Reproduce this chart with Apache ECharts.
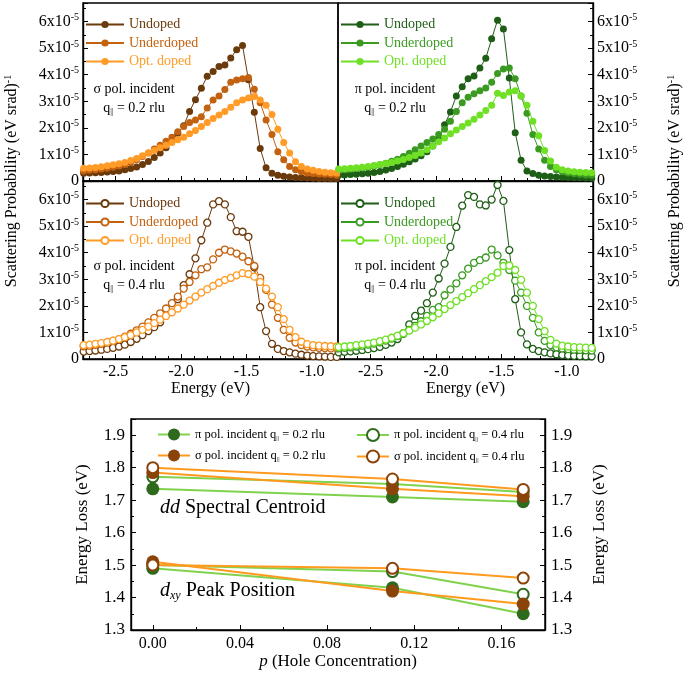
<!DOCTYPE html>
<html><head><meta charset="utf-8">
<script src="https://cdn.jsdelivr.net/npm/echarts@6/dist/echarts.min.js"></script>
<style>html,body{margin:0;padding:0;background:#fff}#c{width:688px;height:679px}</style>
</head><body><div id="c"></div>
<script>
// ---------- DATA (scattering probability in units of 1e-5 (eV srad)^-1) ----------
const energy = [-2.745,-2.700,-2.655,-2.610,-2.565,-2.520,-2.475,-2.430,-2.385,-2.340,-2.295,-2.250,-2.205,-2.160,-2.115,-2.070,-2.025,-1.980,-1.935,-1.890,-1.845,-1.800,-1.755,-1.710,-1.665,-1.620,-1.575,-1.530,-1.485,-1.440,-1.395,-1.350,-1.305,-1.260,-1.215,-1.170,-1.125,-1.080,-1.035,-0.990,-0.945,-0.900,-0.855,-0.810];

const sig02Undoped = [0.29,0.30,0.31,0.32,0.34,0.36,0.38,0.42,0.47,0.53,0.62,0.73,0.88,1.05,1.25,1.50,1.80,2.08,2.62,3.06,3.49,3.94,4.12,4.31,4.37,4.63,4.94,5.10,3.81,2.59,1.22,0.50,0.29,0.22,0.18,0.15,0.13,0.12,0.11,0.10,0.09,0.09,0.08,0.08];
const sig02Under   = [0.38,0.40,0.42,0.45,0.48,0.52,0.56,0.62,0.70,0.80,0.92,1.05,1.20,1.35,1.50,1.65,1.85,2.05,2.20,2.30,2.42,2.75,3.05,3.20,3.44,3.72,3.80,3.85,3.90,3.45,2.95,2.30,1.75,1.10,0.80,0.55,0.42,0.35,0.30,0.28,0.26,0.25,0.24,0.22];
const sig02Opt     = [0.48,0.49,0.51,0.54,0.57,0.61,0.65,0.70,0.77,0.85,0.95,1.05,1.15,1.25,1.35,1.45,1.55,1.65,1.78,1.90,2.05,2.20,2.35,2.48,2.62,2.78,2.95,3.05,3.12,3.18,3.05,2.85,2.50,1.95,1.45,1.05,0.72,0.55,0.45,0.40,0.36,0.33,0.31,0.30];

const pi02Undoped  = [0.22,0.23,0.24,0.25,0.27,0.29,0.32,0.36,0.41,0.47,0.55,0.63,0.72,0.83,0.95,1.10,1.32,1.58,2.12,2.60,3.20,3.55,3.85,3.95,4.25,4.62,5.35,6.05,5.72,3.88,1.82,0.78,0.38,0.28,0.22,0.19,0.17,0.15,0.14,0.13,0.12,0.12,0.11,0.10];
const pi02Under    = [0.40,0.42,0.44,0.46,0.49,0.52,0.56,0.61,0.67,0.74,0.82,0.92,1.04,1.18,1.32,1.45,1.58,1.75,1.95,2.25,2.62,2.95,3.15,3.28,3.40,3.50,3.72,4.05,4.22,4.25,3.85,3.20,2.55,1.75,1.20,0.78,0.55,0.42,0.35,0.30,0.27,0.25,0.23,0.22];
const pi02Opt      = [0.45,0.46,0.48,0.50,0.52,0.55,0.58,0.62,0.66,0.70,0.75,0.81,0.88,0.96,1.05,1.18,1.32,1.48,1.62,1.78,1.92,2.05,2.18,2.32,2.48,2.65,2.85,3.30,3.22,3.35,3.40,3.20,2.85,2.25,1.70,1.15,0.75,0.52,0.42,0.38,0.35,0.33,0.32,0.31];

const sig04Undoped = [0.28,0.30,0.32,0.35,0.38,0.42,0.47,0.54,0.64,0.76,0.90,1.05,1.20,1.38,1.65,1.95,2.25,2.78,3.19,3.79,4.47,5.13,5.82,5.94,5.82,5.34,4.81,4.79,4.60,3.45,1.95,1.05,0.57,0.38,0.30,0.25,0.20,0.16,0.13,0.11,0.10,0.09,0.08,0.08];
const sig04Under   = [0.48,0.50,0.53,0.57,0.62,0.68,0.75,0.84,0.95,1.08,1.22,1.38,1.55,1.72,1.90,2.10,2.35,2.65,2.90,3.15,3.38,3.45,3.75,4.00,4.12,4.05,3.97,3.85,3.68,3.50,3.05,2.60,2.05,1.55,1.10,0.80,0.62,0.52,0.47,0.44,0.42,0.41,0.40,0.40];
const sig04Opt     = [0.52,0.54,0.57,0.60,0.64,0.69,0.75,0.82,0.90,1.00,1.10,1.22,1.35,1.48,1.62,1.76,1.90,2.05,2.20,2.35,2.50,2.63,2.75,2.87,2.97,3.05,3.15,3.23,3.20,3.10,2.90,2.65,2.35,1.95,1.50,1.10,0.82,0.65,0.56,0.52,0.50,0.49,0.48,0.47];

const pi04Undoped  = [0.25,0.27,0.29,0.31,0.34,0.37,0.41,0.46,0.53,0.62,0.75,0.95,1.30,1.62,1.82,2.10,2.50,3.03,3.59,4.22,4.97,5.77,6.17,6.10,5.82,5.78,6.00,6.55,5.95,4.10,2.25,1.00,0.55,0.38,0.30,0.25,0.21,0.18,0.15,0.13,0.12,0.11,0.10,0.10];
const pi04Under    = [0.40,0.42,0.44,0.47,0.50,0.54,0.58,0.63,0.69,0.77,0.86,0.97,1.10,1.25,1.42,1.62,1.85,1.95,2.40,2.62,2.85,3.15,3.40,3.62,3.72,3.82,4.12,3.90,3.62,3.35,2.95,2.50,2.00,1.55,1.00,0.68,0.52,0.44,0.40,0.37,0.35,0.34,0.33,0.32];
const pi04Opt      = [0.45,0.47,0.49,0.52,0.55,0.58,0.62,0.67,0.73,0.80,0.88,0.97,1.07,1.18,1.30,1.43,1.57,1.72,1.88,2.03,2.18,2.33,2.48,2.63,2.78,2.93,3.08,3.25,3.50,3.52,3.35,2.98,2.50,2.00,1.50,1.05,0.72,0.58,0.50,0.47,0.45,0.44,0.43,0.42];

const dopingLabels = ['Undoped', 'Underdoped', 'Opt. doped'];
const energyMajorTicks = [-2.5, -2.0, -1.5, -1.0];
const energyMinorTicks = [-2.7,-2.6,-2.4,-2.3,-2.2,-2.1,-1.9,-1.8,-1.7,-1.6,-1.4,-1.3,-1.2,-1.1,-0.9];

// bottom panel
const holeP = [0, 0.11, 0.17];
const pi02Centroid  = [1.735, 1.710, 1.695];
const pi02Peak      = [1.490, 1.430, 1.350];
const pi04Centroid  = [1.772, 1.750, 1.725];
const pi04Peak      = [1.500, 1.480, 1.410];
const sig02Centroid = [1.785, 1.735, 1.712];
const sig02Peak     = [1.510, 1.420, 1.380];
const sig04Centroid = [1.800, 1.765, 1.733];
const sig04Peak     = [1.500, 1.490, 1.460];
const holeMajorTicks = [0, 0.04, 0.08, 0.12, 0.16];
const holeMinorTicks = [0.02, 0.06, 0.10, 0.14];

// ---------- STYLE ----------
const FONT = '"Liberation Serif","Times New Roman",serif';
const SIG_COLORS = ['#6b3a0c', '#c2610f', '#ff9b26'];
const PI_COLORS  = ['#1f5e17', '#3a9a22', '#6fe024'];
const GREEN_LINE = '#80d24e', GREEN_MARK = '#2e6a1c';
const ORANGE_LINE = '#ff9a1f', BROWN_MARK = '#8a4309';

const chart = echarts.init(document.getElementById('c'), null, {renderer: 'canvas'});

const panels = [
  {key: 'A', grid: 0, pol: 'σ', q: '0.2', open: false, colors: SIG_COLORS, sets: [sig02Undoped, sig02Under, sig02Opt]},
  {key: 'B', grid: 1, pol: 'π', q: '0.2', open: false, colors: PI_COLORS,  sets: [pi02Undoped, pi02Under, pi02Opt]},
  {key: 'C', grid: 2, pol: 'σ', q: '0.4', open: true,  colors: SIG_COLORS, sets: [sig04Undoped, sig04Under, sig04Opt]},
  {key: 'D', grid: 3, pol: 'π', q: '0.4', open: true,  colors: PI_COLORS,  sets: [pi04Undoped, pi04Under, pi04Opt]}
];

const grids = [
  {left: 83,  top: 3,   width: 255, height: 178},
  {left: 338, top: 3,   width: 255, height: 178},
  {left: 83,  top: 181, width: 255, height: 178},
  {left: 338, top: 181, width: 255, height: 178},
  {left: 131, top: 419, width: 414, height: 211}
].map(g => Object.assign({show: true, borderColor: '#000', borderWidth: 1.4, backgroundColor: 'transparent'}, g));

const axisLineStyle = {color: '#000', width: 1.4};
const nameStyle = {fontSize: 16, fontFamily: FONT, color: '#000'};

function energyMajor(gi, showLabels) {
  return {
    type: 'value', gridIndex: gi, min: -2.75, max: -0.8, position: 'bottom',
    axisLine: {show: true, onZero: false, lineStyle: axisLineStyle},
    axisTick: {show: true, inside: true, length: 5, customValues: energyMajorTicks, lineStyle: {color: '#000', width: 1}},
    axisLabel: {show: showLabels, customValues: energyMajorTicks, formatter: v => v.toFixed(1), fontSize: 16, fontFamily: FONT, color: '#000', margin: 5},
    splitLine: {show: false},
    name: showLabels ? 'Energy (eV)' : '', nameLocation: 'middle', nameGap: 18, nameTextStyle: nameStyle
  };
}
function energyMinor(gi) {
  return {
    type: 'value', gridIndex: gi, min: -2.75, max: -0.8, position: 'bottom',
    axisLine: {show: false}, axisLabel: {show: false}, splitLine: {show: false},
    axisTick: {show: true, inside: true, length: 3, customValues: energyMinorTicks, lineStyle: {color: '#000', width: 1}}
  };
}
const supRich = {
  n: {fontSize: 16, fontFamily: FONT, color: '#000', lineHeight: 18},
  s: {fontSize: 10, fontFamily: FONT, color: '#000', verticalAlign: 'top', lineHeight: 10}
};
function probAxis(gi, pos) {
  return {
    type: 'value', gridIndex: gi, min: 0, max: 6.7, interval: 1, position: pos,
    axisLine: {show: true, onZero: false, lineStyle: axisLineStyle},
    axisTick: {show: true, inside: true, length: 5, lineStyle: {color: '#000', width: 1}},
    minorTick: {show: true, splitNumber: 2, length: 3, lineStyle: {color: '#000', width: 1}},
    axisLabel: {
      margin: 4,
      formatter: v => (Math.abs(v - Math.round(v)) > 1e-6) ? '' : (v === 0 ? '{n|0}' : '{n|' + v + 'x10}{s|-5}'),
      rich: supRich
    },
    splitLine: {show: false}
  };
}

const xAxes = [
  energyMajor(0, false), energyMajor(1, false), energyMajor(2, true), energyMajor(3, true),
  {
    type: 'value', gridIndex: 4, min: -0.01, max: 0.18, position: 'bottom',
    axisLine: {show: true, onZero: false, lineStyle: axisLineStyle},
    axisTick: {show: true, inside: true, length: 5, customValues: holeMajorTicks, lineStyle: {color: '#000', width: 1}},
    axisLabel: {customValues: holeMajorTicks, formatter: v => v.toFixed(2), fontSize: 16, fontFamily: FONT, color: '#000', margin: 6},
    splitLine: {show: false},
    name: '{i|p}{n| (Hole Concentration)}', nameLocation: 'middle', nameGap: 23,
    nameTextStyle: {fontSize: 17, fontFamily: FONT, color: '#000', rich: {
      i: {fontSize: 17, fontFamily: FONT, fontStyle: 'italic', color: '#000'},
      n: {fontSize: 17, fontFamily: FONT, color: '#000'}}}
  },
  energyMinor(0), energyMinor(1), energyMinor(2), energyMinor(3),
  {
    type: 'value', gridIndex: 4, min: -0.01, max: 0.18, position: 'bottom',
    axisLine: {show: false}, axisLabel: {show: false}, splitLine: {show: false},
    axisTick: {show: true, inside: true, length: 3, customValues: holeMinorTicks, lineStyle: {color: '#000', width: 1}}
  }
];

function lossAxis(pos, gap) {
  return {
    type: 'value', gridIndex: 4, min: 1.3, max: 1.95, interval: 0.1, position: pos,
    axisLine: {show: true, onZero: false, lineStyle: axisLineStyle},
    axisTick: {show: true, inside: true, length: 5, lineStyle: {color: '#000', width: 1}},
    minorTick: {show: true, splitNumber: 2, length: 3, lineStyle: {color: '#000', width: 1}},
    axisLabel: {formatter: v => Math.abs(v * 10 - Math.round(v * 10)) > 1e-6 ? '' : v.toFixed(1), fontSize: 17, fontFamily: FONT, color: '#000', margin: 6},
    splitLine: {show: false},
    name: 'Energy Loss (eV)', nameLocation: 'middle', nameGap: gap, nameRotate: 90,
    nameTextStyle: {fontSize: 17, fontFamily: FONT, color: '#000'}
  };
}

const yAxes = [probAxis(0, 'left'), probAxis(1, 'right'), probAxis(2, 'left'), probAxis(3, 'right'), lossAxis('left', 40), lossAxis('right', 46)];

const series = [];
const legends = [];
panels.forEach(p => {
  const legendData = [];
  p.sets.forEach((vals, k) => {
    const name = p.key + ' ' + dopingLabels[k];
    const col = p.colors[k];
    series.push({
      type: 'line', name: name, xAxisIndex: p.grid, yAxisIndex: p.grid,
      data: energy.map((e, i) => [e, vals[i]]),
      symbol: 'circle', symbolSize: 7, showAllSymbol: true,
      lineStyle: {color: col, width: 1},
      itemStyle: p.open ? {color: '#fff', borderColor: col, borderWidth: 1.3} : {color: col, borderColor: col, borderWidth: 0},
      emphasis: {disabled: true}, silent: true, z: 2 + k
    });
    legendData.push({name: name, textStyle: {color: col}});
  });
  const left = (p.grid % 2 === 0) ? 85 : 340;
  const top = (p.grid < 2) ? 17 : 196;
  legends.push({
    orient: 'vertical', left: left, top: top, padding: 0, itemGap: 3.5,
    itemWidth: 38, itemHeight: 9, selectedMode: false,
    data: legendData, formatter: n => n.slice(2),
    textStyle: {fontSize: 14, fontFamily: FONT, lineHeight: 15}
  });
});

// bottom panel series
const bottomDefs = [
  {name: 'π0.2', line: GREEN_LINE, mark: GREEN_MARK, open: false, sets: [pi02Centroid, pi02Peak]},
  {name: 'π0.4', line: GREEN_LINE, mark: GREEN_MARK, open: true,  sets: [pi04Centroid, pi04Peak]},
  {name: 'σ0.2', line: ORANGE_LINE, mark: BROWN_MARK, open: false, sets: [sig02Centroid, sig02Peak]},
  {name: 'σ0.4', line: ORANGE_LINE, mark: BROWN_MARK, open: true,  sets: [sig04Centroid, sig04Peak]}
];
bottomDefs.forEach(d => {
  d.sets.forEach(vals => {
    series.push({
      type: 'line', name: d.name, xAxisIndex: 4, yAxisIndex: 4,
      data: holeP.map((p, i) => [p, vals[i]]),
      symbol: 'circle', symbolSize: d.open ? 11 : 13,
      lineStyle: {color: d.line, width: 2},
      itemStyle: d.open ? {color: '#fff', borderColor: d.mark, borderWidth: 2} : {color: d.mark, borderColor: d.mark, borderWidth: 0},
      emphasis: {disabled: true}, silent: true, z: 3
    });
  });
});
const legRich = {
  a: {fontSize: 12.5, fontFamily: FONT, color: '#000', lineHeight: 15},
  s: {fontSize: 7, fontFamily: FONT, color: '#000', verticalAlign: 'bottom', lineHeight: 9}
};
const legFmt = n => '{a|' + n[0] + ' pol. incident q}{s|||}{a| = ' + n.slice(1) + ' rlu}';
legends.push({orient: 'vertical', left: 157, top: 428, padding: 0, itemGap: 7, itemWidth: 32, itemHeight: 15, selectedMode: false,
  data: ['π0.2', 'σ0.2'], formatter: legFmt, textStyle: {rich: legRich}});
legends.push({orient: 'vertical', left: 356, top: 428, padding: 0, itemGap: 7, itemWidth: 32, itemHeight: 15, selectedMode: false,
  data: ['π0.4', 'σ0.4'], formatter: legFmt, textStyle: {rich: legRich}});

// text annotations
function txt(x, y, text, rich, align, extra) {
  return Object.assign({
    type: 'text', x: x, y: y, silent: true,
    style: {text: text, rich: rich, fill: '#000', fontSize: 14, fontFamily: FONT,
      align: align || 'center', verticalAlign: 'middle', textAlign: align || 'center', textVerticalAlign: 'middle'}
  }, extra || {});
}
const noteRich = {
  a: {fontSize: 14, fontFamily: FONT, fill: '#000', color: '#000', lineHeight: 16},
  s: {fontSize: 8, fontFamily: FONT, fill: '#000', color: '#000', verticalAlign: 'bottom', lineHeight: 10}
};
const graphics = [];
panels.forEach(p => {
  const cx = (p.grid % 2 === 0) ? 134 : 395;
  const cy = (p.grid < 2) ? 89 : 266;
  graphics.push(txt(cx, cy, '{a|' + p.pol + ' pol. incident}', noteRich));
  graphics.push(txt(cx, cy + 19, '{a|q}{s|||}{a| = ' + p.q + ' rlu}', noteRich));
});
const titleRich = {
  a: {fontSize: 16, fontFamily: FONT, fill: '#000', color: '#000', lineHeight: 18},
  s: {fontSize: 10, fontFamily: FONT, fill: '#000', color: '#000', verticalAlign: 'top', lineHeight: 10}
};
graphics.push(txt(12, 181, '{a|Scattering Probability (eV srad)}{s|-1}', titleRich, 'center', {rotation: Math.PI / 2}));
graphics.push(txt(675, 181, '{a|Scattering Probability (eV srad)}{s|-1}', titleRich, 'center', {rotation: Math.PI / 2}));
const bigRich = {
  i: {fontSize: 20, fontFamily: FONT, fontStyle: 'italic', fill: '#000', color: '#000', lineHeight: 22},
  n: {fontSize: 20, fontFamily: FONT, fill: '#000', color: '#000', lineHeight: 22},
  sub: {fontSize: 12, fontFamily: FONT, fontStyle: 'italic', fill: '#000', color: '#000', verticalAlign: 'bottom', lineHeight: 14}
};
graphics.push(txt(160, 508, '{i|dd}{n| Spectral Centroid}', bigRich, 'left'));
graphics.push(txt(160, 591, '{i|d}{sub|xy}{n| Peak Position}', bigRich, 'left'));

chart.setOption({
  animation: false,
  backgroundColor: '#fff',
  textStyle: {fontFamily: FONT},
  grid: grids,
  xAxis: xAxes,
  yAxis: yAxes,
  legend: legends,
  series: series,
  graphic: graphics
});
</script></body></html>
